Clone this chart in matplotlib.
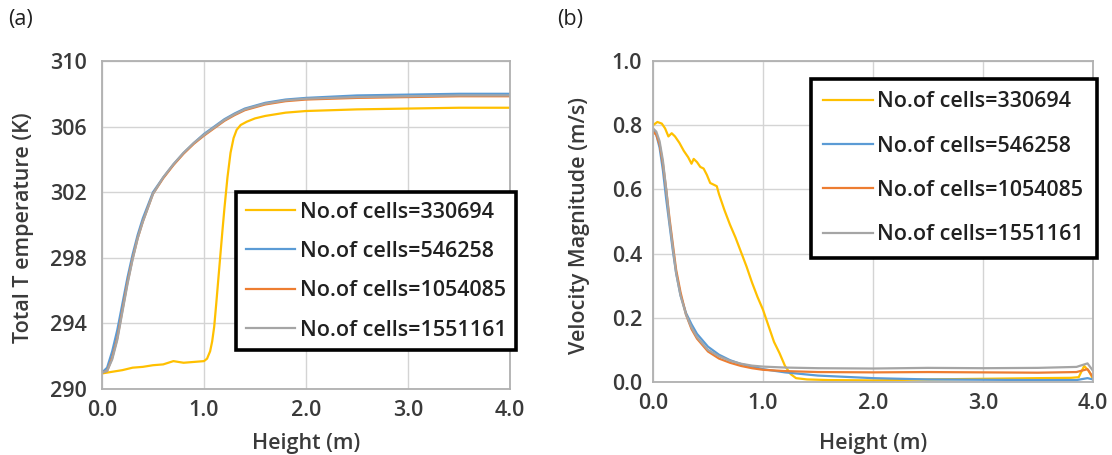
import numpy as np
from matplotlib import pyplot as plt
from matplotlib.ticker import FormatStrFormatter

plt.rcParams["font.family"] = ["Open Sans", "DejaVu Sans"]

labels = ["No.of cells=330694", "No.of cells=546258",
          "No.of cells=1054085", "No.of cells=1551161"]
colors = ["#FFC000", "#5B9BD5", "#ED7D31", "#A5A5A5"]

x_ticks = [0, 1, 2, 3, 4]
ta_ticks = [290, 294, 298, 302, 306, 310]
vb_ticks = [0.0, 0.2, 0.4, 0.6, 0.8, 1.0]

# (a) total temperature vs height
ta_x_330 = [0, 0.1, 0.2, 0.3, 0.4, 0.5, 0.6, 0.7, 0.8, 0.9, 1.0, 1.03, 1.06, 1.08, 1.1,
            1.12, 1.15, 1.18, 1.2, 1.23, 1.26, 1.29, 1.32, 1.36, 1.42, 1.5, 1.6, 1.8,
            2.0, 2.5, 3.0, 3.5, 4.0]
ta_y_330 = [290.95, 291.05, 291.15, 291.3, 291.35, 291.45, 291.5, 291.7, 291.6, 291.65,
            291.7, 291.85, 292.3, 292.9, 293.8, 295.2, 297.4, 299.6, 301.0, 302.9, 304.4,
            305.3, 305.8, 306.1, 306.3, 306.5, 306.65, 306.85, 306.95, 307.05, 307.1,
            307.15, 307.15]
ta_x = [0, 0.05, 0.1, 0.15, 0.2, 0.25, 0.3, 0.35, 0.4, 0.5, 0.6, 0.7, 0.8, 0.9, 1.0,
        1.1, 1.2, 1.3, 1.4, 1.6, 1.8, 2.0, 2.5, 3.0, 3.5, 4.0]
ta_y_546 = [291.0, 291.3, 292.3, 293.6, 295.2, 296.8, 298.2, 299.4, 300.4, 302.0, 302.9,
            303.7, 304.4, 305.0, 305.55, 306.0, 306.45, 306.8, 307.1, 307.45, 307.65,
            307.75, 307.9, 307.95, 308.0, 308.0]
ta_y_1054 = [291.0, 291.1, 291.9, 293.1, 294.8, 296.5, 297.95, 299.2, 300.2, 301.9, 302.85,
             303.65, 304.35, 304.95, 305.45, 305.9, 306.35, 306.7, 307.0, 307.35, 307.55,
             307.65, 307.75, 307.8, 307.85, 307.85]
ta_y_1551 = [291.0, 291.1, 291.8, 293.0, 294.7, 296.4, 297.9, 299.2, 300.2, 301.9, 302.9,
             303.7, 304.4, 305.0, 305.5, 305.95, 306.4, 306.75, 307.05, 307.4, 307.6,
             307.7, 307.8, 307.85, 307.9, 307.9]

# (b) velocity magnitude vs height
vb_x_330 = [0, 0.04, 0.08, 0.11, 0.14, 0.17, 0.2, 0.24, 0.28, 0.32, 0.35, 0.37, 0.4, 0.43,
            0.46, 0.49, 0.52, 0.55, 0.58, 0.6, 0.65, 0.7, 0.75, 0.8, 0.85, 0.9, 0.95, 1.0,
            1.05, 1.1, 1.15, 1.2, 1.25, 1.3, 1.4, 1.6, 2.0, 2.5, 3.0, 3.5, 3.8, 3.87, 3.92,
            3.96, 4.0]
vb_y_330 = [0.80, 0.81, 0.805, 0.79, 0.765, 0.775, 0.765, 0.745, 0.72, 0.70, 0.68, 0.695,
            0.685, 0.67, 0.665, 0.645, 0.62, 0.615, 0.61, 0.585, 0.535, 0.49, 0.45, 0.405,
            0.36, 0.31, 0.265, 0.225, 0.175, 0.125, 0.09, 0.05, 0.025, 0.012, 0.008, 0.006,
            0.005, 0.008, 0.01, 0.012, 0.013, 0.015, 0.05, 0.035, 0.01]
vb_x = [0, 0.03, 0.06, 0.09, 0.12, 0.15, 0.18, 0.21, 0.25, 0.3, 0.35, 0.4, 0.5, 0.6, 0.7,
        0.8, 0.9, 1.0, 1.2, 1.5, 2.0, 2.5, 3.0, 3.5, 3.85, 3.95, 4.0]
vb_y_546 = [0.785, 0.77, 0.73, 0.66, 0.57, 0.49, 0.41, 0.34, 0.27, 0.215, 0.18, 0.15, 0.11,
            0.085, 0.068, 0.056, 0.048, 0.04, 0.03, 0.02, 0.012, 0.008, 0.007, 0.006, 0.006,
            0.012, 0.008]
vb_y_1054 = [0.78, 0.77, 0.74, 0.68, 0.6, 0.51, 0.43, 0.35, 0.28, 0.21, 0.165, 0.135, 0.095,
             0.073, 0.06, 0.05, 0.043, 0.038, 0.034, 0.031, 0.03, 0.031, 0.03, 0.029, 0.031,
             0.04, 0.015]
vb_y_1551 = [0.79, 0.78, 0.75, 0.69, 0.6, 0.5, 0.42, 0.34, 0.27, 0.21, 0.17, 0.14, 0.1, 0.08,
             0.066, 0.057, 0.051, 0.048, 0.045, 0.043, 0.042, 0.044, 0.043, 0.044, 0.047,
             0.058, 0.035]

TXT = "#3a3a3a"
FS = 15.5
LEG_FS = 15.5
W, H = 1112, 455


def px(x, y):
    """pixel position (from top-left) to figure fraction"""
    return x / W, 1 - y / H


def style_axes(ax, ylim, yticks, yfmt, ypad):
    ax.set_xlim(0, 4)
    ax.set_ylim(*ylim)
    ax.set_xticks(x_ticks)
    ax.set_yticks(yticks)
    ax.xaxis.set_major_formatter(FormatStrFormatter("%.1f"))
    ax.yaxis.set_major_formatter(FormatStrFormatter(yfmt))
    ax.grid(True, color="#d4d4d4", lw=1.0)
    ax.set_axisbelow(True)
    for s in ax.spines.values():
        s.set_color("#b0b0b0")
        s.set_linewidth(1.3)
    ax.tick_params(axis="x", length=0, pad=8, labelsize=FS, labelcolor=TXT)
    ax.tick_params(axis="y", length=0, pad=ypad, labelsize=FS, labelcolor=TXT)
    for t in ax.get_xticklabels() + ax.get_yticklabels():
        t.set_fontweight("semibold")


def add_legend(ax, handles, x0, y0, spacing, bpad):
    leg = ax.legend(handles, labels, loc="upper left", bbox_to_anchor=px(x0, y0),
                    bbox_transform=fig.transFigure, borderaxespad=0, fancybox=False,
                    framealpha=1, edgecolor="black", handlelength=2.3,
                    handletextpad=0.2, labelspacing=spacing, borderpad=bpad,
                    prop={"size": LEG_FS, "weight": "semibold"})
    leg.get_frame().set_linewidth(2.6)
    for t in leg.get_texts():
        t.set_color("#202020")
    return leg


def label(x, y, s, rot=0):
    fig.text(*px(x, y), s, fontsize=FS, color=TXT, fontweight="semibold",
             rotation=rot, ha="center", va="center")


fig = plt.figure(figsize=(11.12, 4.55), dpi=100)

ax1 = fig.add_axes([102 / W, 1 - 389 / H, 408 / W, 328 / H])
h = []
h += ax1.plot(ta_x_330, ta_y_330, color=colors[0], lw=1.6)
h += ax1.plot(ta_x, ta_y_546, color=colors[1], lw=1.6)
h += ax1.plot(ta_x, ta_y_1054, color=colors[2], lw=1.6)
h += ax1.plot(ta_x, ta_y_1551, color=colors[3], lw=1.6)
style_axes(ax1, (290, 310), ta_ticks, "%d", 11)
add_legend(ax1, h, 236, 192, 0.85, 0.45)
label(24, 228, "Total T emperature (K)", rot=90)
label(306, 443, "Height (m)")

ax2 = fig.add_axes([653 / W, 1 - 382 / H, 440 / W, 321 / H])
h = []
h += ax2.plot(vb_x_330, vb_y_330, color=colors[0], lw=1.6)
h += ax2.plot(vb_x, vb_y_546, color=colors[1], lw=1.6)
h += ax2.plot(vb_x, vb_y_1054, color=colors[2], lw=1.6)
h += ax2.plot(vb_x, vb_y_1551, color=colors[3], lw=1.6)
style_axes(ax2, (0, 1), vb_ticks, "%.1f", 8)
add_legend(ax2, h, 811, 79, 1.08, 0.58)
label(580, 226, "Velocity Magnitude (m/s)", rot=90)
label(873, 443, "Height (m)")

fig.text(*px(8, 20), "(a)", fontsize=FS, color="#202020", va="center")
fig.text(*px(557, 20), "(b)", fontsize=FS, color="#202020", va="center")

fig.savefig("out.png", dpi=100)
